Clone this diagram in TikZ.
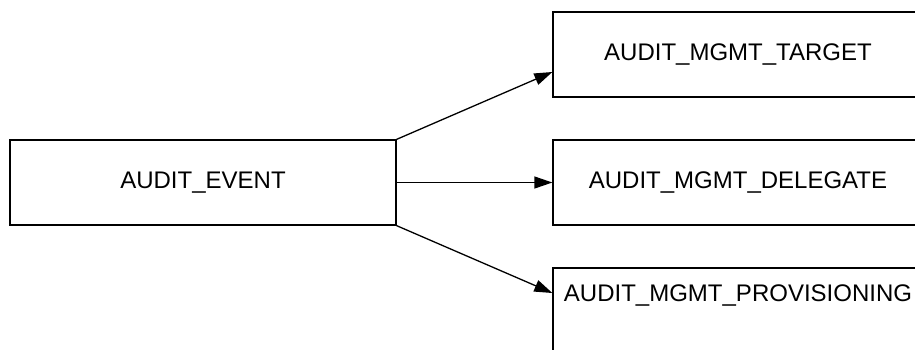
\documentclass[tikz,border=0pt]{standalone}
\usepackage{fontspec}
\setmainfont{Liberation Sans}
\usetikzlibrary{arrows.meta}

\begin{document}
\begin{tikzpicture}[
  x=1pt, y=-1pt,
  tbl/.style={draw, minimum width=#1, minimum height=85pt, inner sep=0pt,
    font=\fontsize{24}{28}\selectfont},
  tbl/.default=370pt,
  rel/.style={-{Triangle[length=18pt,width=12pt]}},
  line width=1.3pt
]
  \clip (0,0) rectangle (915,349);

  \node[tbl=386pt] (evt) at (203,182.5) {AUDIT\_EVENT};
  \node[tbl] (tgt) at (738,54.5) {AUDIT\_MGMT\_TARGET};
  \node[tbl] (dlg) at (738,182.5) {AUDIT\_MGMT\_DELEGATE};
  \node[tbl] (prv) at (738,310.5) {};
  \node[font=\fontsize{24}{28}\selectfont] (prvtxt) at (738,295) {AUDIT\_MGMT\_PROVISIONING};

  \draw[rel] (evt.north east) -- ([yshift=-17.5pt]tgt.west);
  \draw[rel] (evt.east) -- (dlg.west);
  \draw[rel] (evt.south east) -- ([yshift=17.5pt]prv.west);
\end{tikzpicture}
\end{document}
